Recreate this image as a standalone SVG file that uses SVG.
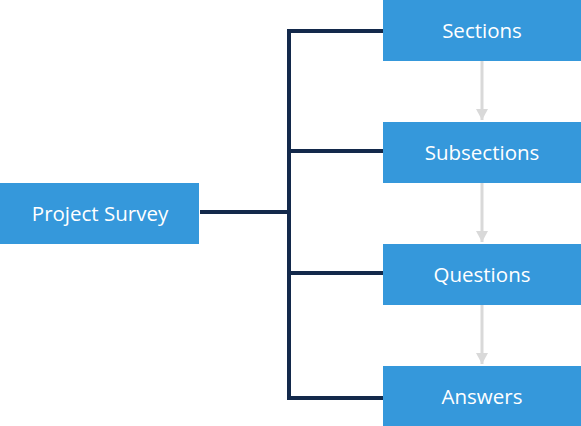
<svg xmlns="http://www.w3.org/2000/svg" width="581" height="426" viewBox="0 0 581 426">
<style>
.box{fill:#3598db}
.lbl{font-family:"Open Sans","Noto Sans",sans-serif;font-size:20.5px;fill:#ffffff;text-anchor:middle;dominant-baseline:central}
.tree{fill:none;stroke:#13294b;stroke-width:4}
.flow{stroke:#d9d9d9;stroke-width:3;fill:none}
</style>
<defs>
<marker id="ah" markerWidth="11" markerHeight="12" refX="11" refY="6" orient="auto" markerUnits="userSpaceOnUse" viewBox="0 0 11 12">
<path d="M0 0L11 6L0 12Z" fill="#d9d9d9"/>
</marker>
</defs>
<g id="connectors">
<path class="tree" d="M200 212H289M383 31H289V398H383M289 151H383M289 273H383"/>
<line class="flow" x1="482" y1="61" x2="482" y2="120" marker-end="url(#ah)"/>
<line class="flow" x1="482" y1="183" x2="482" y2="242" marker-end="url(#ah)"/>
<line class="flow" x1="482" y1="305" x2="482" y2="364" marker-end="url(#ah)"/>
</g>
<g id="project-survey"><rect class="box" x="0" y="183" width="199" height="61"/><text class="lbl" x="100" y="212.5">Project Survey</text></g>
<g id="sections"><rect class="box" x="383" y="0" width="198" height="61"/><text class="lbl" x="482" y="29.5">Sections</text></g>
<g id="subsections"><rect class="box" x="383" y="122" width="198" height="61"/><text class="lbl" x="482" y="151.5">Subsections</text></g>
<g id="questions"><rect class="box" x="383" y="244" width="198" height="61"/><text class="lbl" x="482" y="273.5">Questions</text></g>
<g id="answers"><rect class="box" x="383" y="366" width="198" height="60"/><text class="lbl" x="482" y="395.5">Answers</text></g>
</svg>
